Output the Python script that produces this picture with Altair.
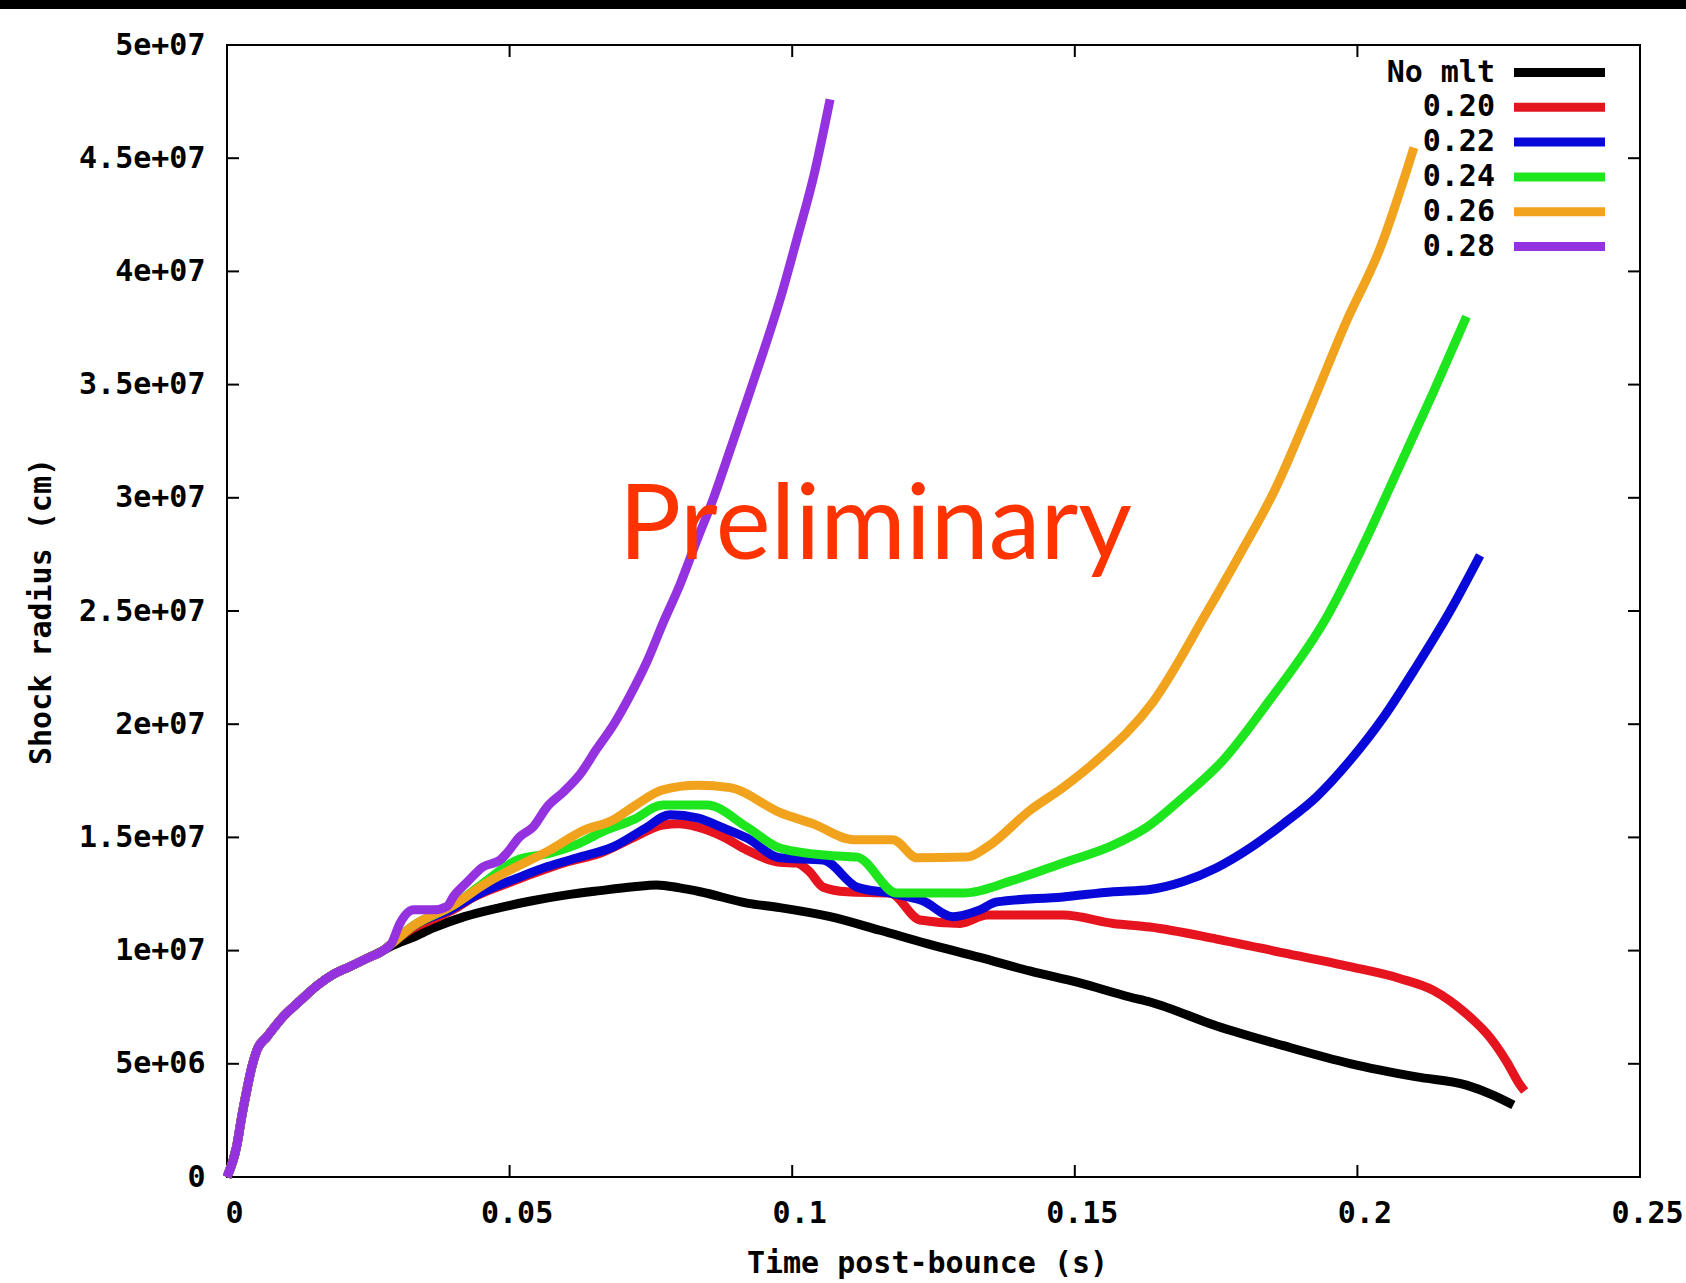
import json

import altair as alt
import pandas as pd

# Shared early evolution (all models coincide before ~28 ms)
early_t = [0.0, 0.0017, 0.0026, 0.0035, 0.0044, 0.0053, 0.0071, 0.0100, 0.0130,
           0.0159, 0.0188, 0.0218, 0.0247, 0.0276]
early_r = [0.0, 1.34e6, 2.66e6, 3.84e6, 4.87e6, 5.61e6, 6.20e6, 7.10e6, 7.80e6,
           8.45e6, 8.95e6, 9.30e6, 9.65e6, 1.00e7]

# No mixing-length treatment
nomlt_t = [0.0291, 0.0330, 0.0365, 0.0420, 0.0483, 0.0540, 0.0601, 0.0660, 0.0719,
           0.0760, 0.0801, 0.0837, 0.0920, 0.0978, 0.1067, 0.1155, 0.1240, 0.1332,
           0.1420, 0.1509, 0.1597, 0.1633, 0.1751, 0.1869, 0.1987, 0.2105, 0.2193,
           0.2240, 0.2276]
nomlt_r = [1.02e7, 1.06e7, 1.10e7, 1.15e7, 1.19e7, 1.22e7, 1.246e7, 1.265e7, 1.282e7,
           1.29e7, 1.277e7, 1.26e7, 1.21e7, 1.19e7, 1.15e7, 1.09e7, 1.03e7, 9.7e6,
           9.1e6, 8.57e6, 7.95e6, 7.73e6, 6.67e6, 5.8e6, 5.01e6, 4.42e6, 4.06e6,
           3.62e6, 3.18e6]

# alpha = 0.20
a20_t = [0.0291, 0.0330, 0.0365, 0.0400, 0.0436, 0.0500, 0.0542, 0.0600, 0.0660,
         0.0720, 0.0771, 0.0800, 0.0832, 0.0880, 0.0920, 0.0978, 0.1008, 0.1030,
         0.1055, 0.1097, 0.1173, 0.1226, 0.1297, 0.1345, 0.1479, 0.1568, 0.1633,
         0.1751, 0.1869, 0.1987, 0.2075, 0.2134, 0.2193, 0.2235, 0.2264, 0.2288,
         0.2296]
a20_r = [1.03e7, 1.10e7, 1.14e7, 1.18e7, 1.235e7, 1.30e7, 1.34e7, 1.39e7, 1.43e7,
         1.50e7, 1.555e7, 1.56e7, 1.546e7, 1.50e7, 1.444e7, 1.39e7, 1.387e7, 1.35e7,
         1.28e7, 1.26e7, 1.254e7, 1.135e7, 1.12e7, 1.157e7, 1.157e7, 1.12e7, 1.104e7,
         1.051e7, 9.9e6, 9.29e6, 8.77e6, 8.25e6, 7.2e6, 6.15e6, 5.1e6, 4.06e6,
         3.8e6]

# alpha = 0.22
a22_t = [0.0291, 0.0330, 0.0395, 0.0448, 0.0513, 0.0566, 0.0620, 0.0683, 0.0740,
         0.0784, 0.0832, 0.0880, 0.0920, 0.0978, 0.1055, 0.1115, 0.1173, 0.1231,
         0.1284, 0.1332, 0.1362, 0.1479, 0.1568, 0.1633, 0.1692, 0.1751, 0.1810,
         0.1869, 0.1928, 0.1987, 0.2046, 0.2105, 0.2164, 0.2217]
a22_r = [1.03e7, 1.11e7, 1.18e7, 1.254e7, 1.32e7, 1.37e7, 1.41e7, 1.458e7, 1.54e7,
         1.60e7, 1.586e7, 1.54e7, 1.497e7, 1.41e7, 1.40e7, 1.28e7, 1.254e7, 1.22e7,
         1.15e7, 1.18e7, 1.215e7, 1.237e7, 1.26e7, 1.27e7, 1.305e7, 1.366e7, 1.453e7,
         1.56e7, 1.68e7, 1.84e7, 2.03e7, 2.257e7, 2.50e7, 2.746e7]

# alpha = 0.24
a24_t = [0.0291, 0.0330, 0.0400, 0.0453, 0.0513, 0.0571, 0.0620, 0.0660, 0.0720,
         0.0771, 0.0849, 0.0920, 0.0978, 0.1067, 0.1115, 0.1185, 0.1302, 0.1390,
         0.1479, 0.1568, 0.1628, 0.1686, 0.1762, 0.1842, 0.1948, 0.2010, 0.2072,
         0.2134, 0.2193]
a24_r = [1.03e7, 1.11e7, 1.20e7, 1.297e7, 1.40e7, 1.43e7, 1.47e7, 1.52e7, 1.58e7,
         1.643e7, 1.643e7, 1.546e7, 1.453e7, 1.42e7, 1.413e7, 1.254e7, 1.254e7, 1.31e7,
         1.387e7, 1.466e7, 1.546e7, 1.665e7, 1.84e7, 2.097e7, 2.483e7, 2.788e7, 3.126e7,
         3.465e7, 3.80e7]

# alpha = 0.26
a26_t = [0.0291, 0.0330, 0.0400, 0.0460, 0.0501, 0.0571, 0.0630, 0.0683, 0.0719,
         0.0771, 0.0832, 0.0890, 0.0978, 0.1037, 0.1108, 0.1178, 0.1221, 0.1309,
         0.1345, 0.1421, 0.1479, 0.1539, 0.1638, 0.1731, 0.1793, 0.1855, 0.1917,
         0.1979, 0.2041, 0.2100]
a26_r = [1.03e7, 1.11e7, 1.20e7, 1.30e7, 1.356e7, 1.444e7, 1.53e7, 1.577e7, 1.636e7,
         1.71e7, 1.73e7, 1.72e7, 1.61e7, 1.56e7, 1.49e7, 1.49e7, 1.41e7, 1.413e7,
         1.458e7, 1.62e7, 1.72e7, 1.84e7, 2.097e7, 2.483e7, 2.754e7, 3.04e7, 3.397e7,
         3.77e7, 4.107e7, 4.547e7]

# alpha = 0.28
a28_t = [0.0291, 0.0306, 0.0330, 0.0365, 0.0389, 0.0401, 0.0424, 0.0453, 0.0483,
         0.0495, 0.0518, 0.0542, 0.0566, 0.0595, 0.0625, 0.0654, 0.0684, 0.0713,
         0.0743, 0.0772, 0.0802, 0.0831, 0.0861, 0.0890, 0.0920, 0.0949, 0.0979,
         0.1008, 0.1038, 0.1067]
a28_r = [1.032e7, 1.12e7, 1.18e7, 1.18e7, 1.195e7, 1.24e7, 1.30e7, 1.37e7, 1.40e7,
         1.43e7, 1.503e7, 1.547e7, 1.634e7, 1.70e7, 1.78e7, 1.89e7, 1.998e7, 2.126e7,
         2.276e7, 2.45e7, 2.62e7, 2.81e7, 3.00e7, 3.21e7, 3.43e7, 3.645e7, 3.88e7,
         4.14e7, 4.42e7, 4.76e7]

series_names = ["No mlt", "0.20", "0.22", "0.24", "0.26", "0.28"]
series_colors = ["#000000", "#E5141E", "#0808D8", "#1EE61E", "#F2A31E", "#9532E0"]
series_t = [nomlt_t, a20_t, a22_t, a24_t, a26_t, a28_t]
series_r = [nomlt_r, a20_r, a22_r, a24_r, a26_r, a28_r]

x_ticks = [0.0, 0.05, 0.1, 0.15, 0.2, 0.25]
x_tick_labels = ["0", "0.05", "0.1", "0.15", "0.2", "0.25"]
y_ticks = [0, 5e6, 1e7, 1.5e7, 2e7, 2.5e7, 3e7, 3.5e7, 4e7, 4.5e7, 5e7]
y_tick_labels = ["0", "5e+06", "1e+07", "1.5e+07", "2e+07", "2.5e+07", "3e+07",
                 "3.5e+07", "4e+07", "4.5e+07", "5e+07"]

W, H = 1413, 1132
PAD = {"left": 227, "top": 45, "right": 46, "bottom": 106}
FONT = "DejaVu Sans Mono"
FS = 30
LW = 9
TICK = 12

x_scale = alt.Scale(domain=[0, 0.25], nice=False, zero=False)
y_scale = alt.Scale(domain=[0, 5e7], nice=False, zero=False)

x_axis = alt.Axis(
    values=x_ticks,
    labelExpr=f"{json.dumps(x_tick_labels)}[round(datum.value / 0.05)]",
    ticks=False, domain=False, grid=False,
    labelFont=FONT, labelFontSize=FS, labelFontWeight="bold", labelColor="black",
    labelPadding=21, labelOffset=7, labelFlush=False, labelOverlap=False,
    title="Time post-bounce (s)", titleFont=FONT, titleFontSize=FS,
    titleFontWeight="bold", titleColor="black",
    titleX=700, titleY=86, titleAlign="center", titleBaseline="middle",
)
y_axis = alt.Axis(
    values=y_ticks,
    labelExpr=f"{json.dumps(y_tick_labels)}[round(datum.value / 5e6)]",
    ticks=False, domain=False, grid=False,
    labelFont=FONT, labelFontSize=FS, labelFontWeight="bold", labelColor="black",
    labelPadding=22, labelFlush=False, labelOverlap=False,
    title="Shock radius (cm)", titleFont=FONT, titleFontSize=FS,
    titleFontWeight="bold", titleColor="black", titleAngle=270,
    titleX=-186, titleY=H / 2, titleAlign="center", titleBaseline="middle",
)


def xq(field):
    return alt.X(field, scale=x_scale, axis=x_axis)


def yq(field):
    return alt.Y(field, scale=y_scale, axis=y_axis)


layers = []

# one line per model, drawn in order so the later models sit on top
for name, color, t, r in zip(series_names, series_colors, series_t, series_r):
    df = pd.DataFrame({"t": early_t + t, "r": early_r + r, "model": name})
    layers.append(
        alt.Chart(df).mark_line(color=color, strokeWidth=LW, strokeJoin="round",
                                strokeCap="butt", interpolate="monotone")
        .encode(x=xq("t:Q"), y=yq("r:Q"), order="t:Q")
    )

# inward tick marks on all four sides of the frame
xt = pd.DataFrame({"v": x_ticks[1:-1]})
yt = pd.DataFrame({"v": y_ticks[1:-1]})
tick_style = dict(color="black", strokeWidth=2)
layers += [
    alt.Chart(xt).mark_rule(**tick_style).encode(
        x=xq("v:Q"), y=alt.value(H - TICK), y2=alt.value(H)),
    alt.Chart(xt).mark_rule(**tick_style).encode(
        x=xq("v:Q"), y=alt.value(0), y2=alt.value(TICK)),
    alt.Chart(yt).mark_rule(**tick_style).encode(
        y=yq("v:Q"), x=alt.value(0), x2=alt.value(TICK)),
    alt.Chart(yt).mark_rule(**tick_style).encode(
        y=yq("v:Q"), x=alt.value(W - TICK), x2=alt.value(W)),
]

# key in the upper right corner: label, then a line sample
for i, (name, color) in enumerate(zip(series_names, series_colors)):
    row_y = 27.5 + i * 34.8
    layers.append(
        alt.Chart(pd.DataFrame({"label": [name]})).mark_text(
            align="right", baseline="middle", font=FONT, fontSize=FS,
            fontWeight="bold", color="black",
        ).encode(text="label:N", x=alt.value(1268), y=alt.value(row_y))
    )
    layers.append(
        alt.Chart(pd.DataFrame({"label": [name]})).mark_rule(color=color, strokeWidth=LW).encode(
            x=alt.value(1287), x2=alt.value(1378), y=alt.value(row_y))
    )

# watermark
layers.append(
    alt.Chart(pd.DataFrame({"t": [0.1147], "r": [2.73e7], "txt": ["Preliminary"]}))
    .mark_text(font="Lato", fontWeight=400, fontSize=104, color="#FF3300",
               align="center", baseline="alphabetic")
    .encode(x=xq("t:Q"), y=yq("r:Q"), text="txt:N")
)

# dark strip across the top edge
layers.append(
    alt.Chart(pd.DataFrame({"k": [0]})).mark_rect(color="black").encode(
        x=alt.value(-PAD["left"]), x2=alt.value(W + PAD["right"]),
        y=alt.value(-PAD["top"]), y2=alt.value(-PAD["top"] + 9))
)

chart = (
    alt.layer(*layers)
    .properties(width=W, height=H, padding=PAD,
                autosize=alt.AutoSizeParams(type="none"), background="white")
    .configure_view(stroke="black", strokeWidth=2)
)

chart.save("out.html", embed_options={"renderer": "svg", "actions": False})
